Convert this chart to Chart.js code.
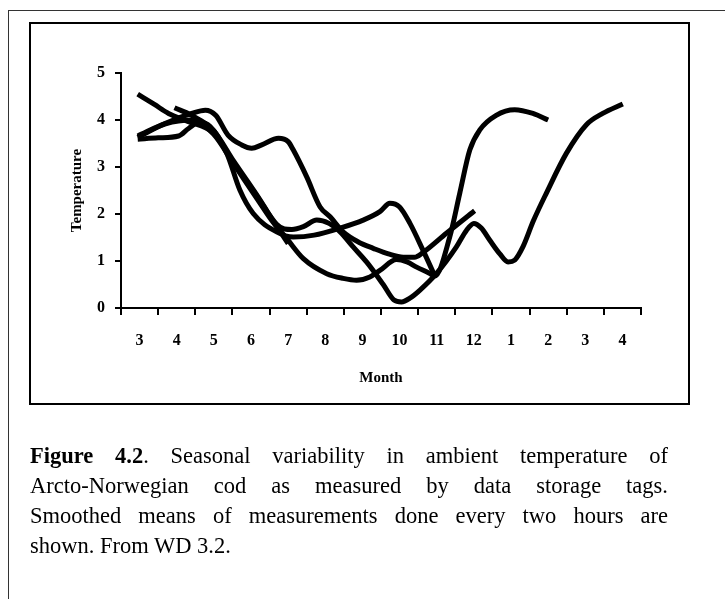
<!DOCTYPE html>
<html>
<head>
<meta charset="utf-8">
<script src="https://cdn.jsdelivr.net/npm/chart.js@4"></script>
<style>
  body { margin: 0; width: 725px; height: 599px; overflow: hidden; background: #fff; position: relative; }
  #outer { position: absolute; left: 8px; top: 10px; width: 800px; height: 700px; border: 1.5px solid #333; }
  #inner { position: absolute; left: 29px; top: 22px; width: 657px; height: 379px; border: 2px solid #000; }
  #chart { position: absolute; left: 0; top: 0; }
  #caption { position: absolute; left: 30px; top: 441px; width: 638px; font-family: "Liberation Serif", "Times New Roman", serif;
             font-size: 22.5px; line-height: 30px; color: #000; }
  #caption .j { text-align: justify; text-align-last: justify; white-space: nowrap; }
</style>
</head>
<body>
<div id="outer"></div>
<div id="inner"></div>
<canvas id="chart" width="725" height="599"></canvas>
<div id="caption">
  <div class="j"><b>Figure 4.2</b>. Seasonal variability in ambient temperature of</div>
  <div class="j">Arcto-Norwegian cod as measured by data storage tags.</div>
  <div class="j">Smoothed means of measurements done every two hours are</div>
  <div>shown. From WD 3.2.</div>
</div>
<script>
// month labels, one per category (March of year 1 to April of year 2)
const months = ['3', '4', '5', '6', '7', '8', '9', '10', '11', '12', '1', '2', '3', '4'];
const tempTicks = [0, 1, 2, 3, 4, 5];

// smoothed tag series: [months from start of March, temperature]
const tagA = [[0.45,4.55],[0.9,4.33],[1.28,4.14],[1.8,3.97],[2.49,3.72],[3.03,3.09],[3.66,2.38],[4.19,1.78],[4.4,1.68],[4.6,1.67],
  [4.91,1.73],[5.27,1.87],[5.6,1.8],[5.9,1.62],[6.25,1.3],[6.61,0.98],[7.06,0.5],[7.35,0.17],[7.55,0.13],[7.8,0.22],[8.05,0.38],
  [8.49,0.73],[9.03,1.3],[9.3,1.65],[9.5,1.8],[9.7,1.7],[9.93,1.44],[10.2,1.15],[10.42,0.98],[10.6,1.02],[10.82,1.3],[11.1,1.85],
  [11.45,2.44],[11.99,3.29],[12.53,3.9],[12.97,4.14],[13.51,4.34]];
const tagB = [[1.44,4.26],[1.9,4.1],[2.49,3.78],[3.03,3.13],[3.66,2.4],[4.19,1.74],[4.5,1.37]];
const tagC = [[0.45,3.59],[1.0,3.62],[1.55,3.66],[1.82,3.82],[2.1,3.95],[2.4,3.86],[2.85,3.29],[3.2,2.51],[3.56,2.01],[4.19,1.62],
  [4.64,1.51],[5.2,1.55],[5.9,1.7],[6.52,1.87],[6.97,2.05],[7.24,2.23],[7.5,2.15],[7.78,1.8],[8.13,1.23],[8.45,0.68]];
const tagD = [[0.45,3.63],[1.2,3.93],[1.9,4.14],[2.27,4.21],[2.55,4.1],[2.88,3.68],[3.25,3.47],[3.52,3.4],[3.79,3.47],[4.24,3.61],
  [4.5,3.54],[4.64,3.36],[5.0,2.79],[5.36,2.15],[5.63,1.94],[5.98,1.62],[6.4,1.4],[6.79,1.27],[7.2,1.15],[7.6,1.08],[7.9,1.08],
  [8.13,1.18],[8.76,1.59],[9.52,2.07]];
const tagE = [[0.45,3.66],[1.2,3.92],[1.9,4.0],[2.49,3.7],[3.03,3.07],[3.66,2.33],[4.1,1.82],[4.46,1.48],[4.91,1.05],[5.54,0.73],
  [5.98,0.63],[6.34,0.59],[6.7,0.66],[6.97,0.8],[7.42,1.03],[7.7,0.98],[7.96,0.87],[8.3,0.74],[8.45,0.68],[8.85,1.51],[9.12,2.44],
  [9.39,3.36],[9.66,3.79],[10.1,4.1],[10.6,4.22],[11.09,4.14],[11.5,4.0]];

const serif = '"Liberation Serif", "Times New Roman", serif';

function toPoints(arr) {
  return arr.map(p => ({ x: p[0], y: p[1] }));
}

const datasets = [tagA, tagB, tagC, tagD, tagE].map(s => ({
  data: toPoints(s),
  xAxisID: 'xv',
  borderColor: '#000',
  borderWidth: 5,
  pointRadius: 0,
  fill: false,
  cubicInterpolationMode: 'monotone',
  borderJoinStyle: 'round'
}));

new Chart(document.getElementById('chart'), {
  type: 'line',
  data: { labels: months, datasets: datasets },
  options: {
    responsive: false,
    animation: false,
    devicePixelRatio: 1,
    layout: { padding: { top: 73, right: 84, bottom: 211, left: 0 } },
    plugins: { legend: { display: false }, tooltip: { enabled: false } },
    scales: {
      x: {
        type: 'category',
        offset: true,
        grid: { offset: true, drawOnChartArea: false, drawTicks: true, tickLength: 7, color: '#000', lineWidth: 2 },
        border: { display: true, color: '#000', width: 2 },
        ticks: { color: '#000', padding: 16, font: { family: serif, size: 16, weight: 'bold' }, maxRotation: 0 },
        title: { display: true, text: 'Month', color: '#000', font: { family: serif, size: 15, weight: 'bold' }, padding: { top: 0, bottom: 1 } },
        afterFit: s => { s.height = 80; }
      },
      xv: { type: 'linear', display: false, min: 0, max: 14 },
      y: {
        min: 0, max: 5,
        afterBuildTicks: s => { s.ticks = tempTicks.map(v => ({ value: v })); },
        grid: { drawOnChartArea: false, drawTicks: true, tickLength: 6, color: '#000', lineWidth: 2 },
        border: { display: true, color: '#000', width: 2 },
        ticks: { color: '#000', padding: 10, font: { family: serif, size: 16, weight: 'bold' } },
        title: { display: true, text: 'Temperature', color: '#000', font: { family: serif, size: 15, weight: 'bold' }, padding: { top: 68, bottom: 0 } },
        afterFit: s => { s.width = 121; }
      }
    }
  }
});
</script>
</body>
</html>
